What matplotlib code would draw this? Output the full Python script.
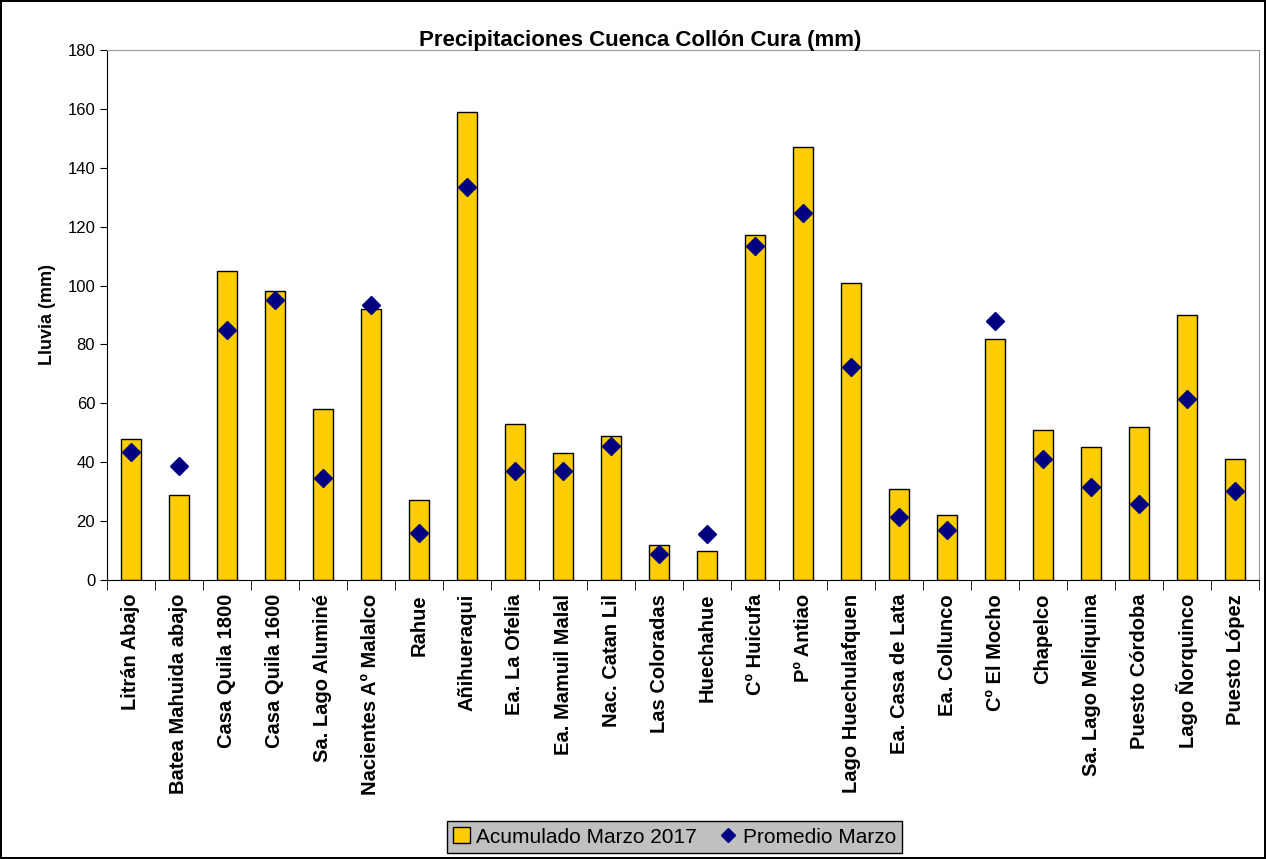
import matplotlib
matplotlib.use("Agg")
from matplotlib import pyplot as plt
import numpy as np

plt.rcParams['font.family'] = ['Liberation Sans', 'DejaVu Sans']

estaciones = ["Litrán Abajo", "Batea Mahuida abajo", "Casa Quila 1800", "Casa Quila 1600",
              "Sa. Lago Aluminé", "Nacientes Aº Malalco", "Rahue", "Añihueraqui",
              "Ea. La Ofelia", "Ea. Mamuil Malal", "Nac. Catan Lil", "Las Coloradas",
              "Huechahue", "Cº Huicufa", "Pº Antiao", "Lago Huechulafquen",
              "Ea. Casa de Lata", "Ea. Collunco", "Cº El Mocho", "Chapelco",
              "Sa. Lago Meliquina", "Puesto Córdoba", "Lago Ñorquinco", "Puesto López"]
acumulado = [48, 29, 105, 98, 58, 92, 27, 159, 53, 43, 49, 12,
             10, 117, 147, 101, 31, 22, 82, 51, 45, 52, 90, 41]
promedio = [43.5, 38.8, 85, 95, 34.5, 93.3, 16, 133.4, 36.9, 36.9, 45.5, 8.9,
            15.6, 113.3, 124.6, 72.4, 21.3, 17, 88, 41.2, 31.7, 25.9, 61.5, 30.3]

fig = plt.figure(figsize=(12.66, 8.59), dpi=100)
fig.patch.set_edgecolor("black")
fig.patch.set_linewidth(1.5)
ax = fig.add_axes([0.0845, 0.3248, 0.91, 0.617])

x = np.arange(len(estaciones))
barras = ax.bar(x, acumulado, width=0.42, color="#FFCC00", edgecolor="black", linewidth=1,
                label="Acumulado Marzo 2017", zorder=2)
puntos, = ax.plot(x, promedio, linestyle="none", marker="D", markersize=9, color="#000080",
                  label="Promedio Marzo", zorder=3)

ax.set_xlim(-0.5, len(estaciones) - 0.5)
ax.set_ylim(0, 180)
ax.set_yticks(np.arange(0, 181, 20))
ax.tick_params(axis="y", labelsize=12, direction="out", length=5)
ax.set_xticks(x)
ax.set_xticklabels(estaciones, rotation=90, fontsize=14.5, fontweight="bold")
ax.tick_params(axis="x", which="major", length=0, pad=10)
ax.set_xticks(np.arange(-0.5, len(estaciones), 1), minor=True)
ax.tick_params(axis="x", which="minor", length=7, direction="out")

for s in ["top", "right"]:
    ax.spines[s].set_color("#999999")
ax.spines["left"].set_color("black")
ax.spines["bottom"].set_color("black")

ax.set_ylabel("Lluvia (mm)", fontsize=13, fontweight="bold", labelpad=8)
fig.text(0.506, 0.953, "Precipitaciones Cuenca Collón Cura (mm)", fontsize=16,
         fontweight="bold", ha="center", va="center")

leg = fig.legend([barras, puntos], ["Acumulado Marzo 2017", "Promedio Marzo"],
                 loc="center", bbox_to_anchor=(0.533, 0.0256), ncol=2, fontsize=15,
                 frameon=True, fancybox=False, edgecolor="black", facecolor="#C0C0C0",
                 handlelength=0.8, handleheight=0.8, handletextpad=0.3, columnspacing=1.1,
                 borderpad=0.3, markerscale=0.8)
leg.get_frame().set_alpha(1)

fig.savefig("out.png", dpi=100)
